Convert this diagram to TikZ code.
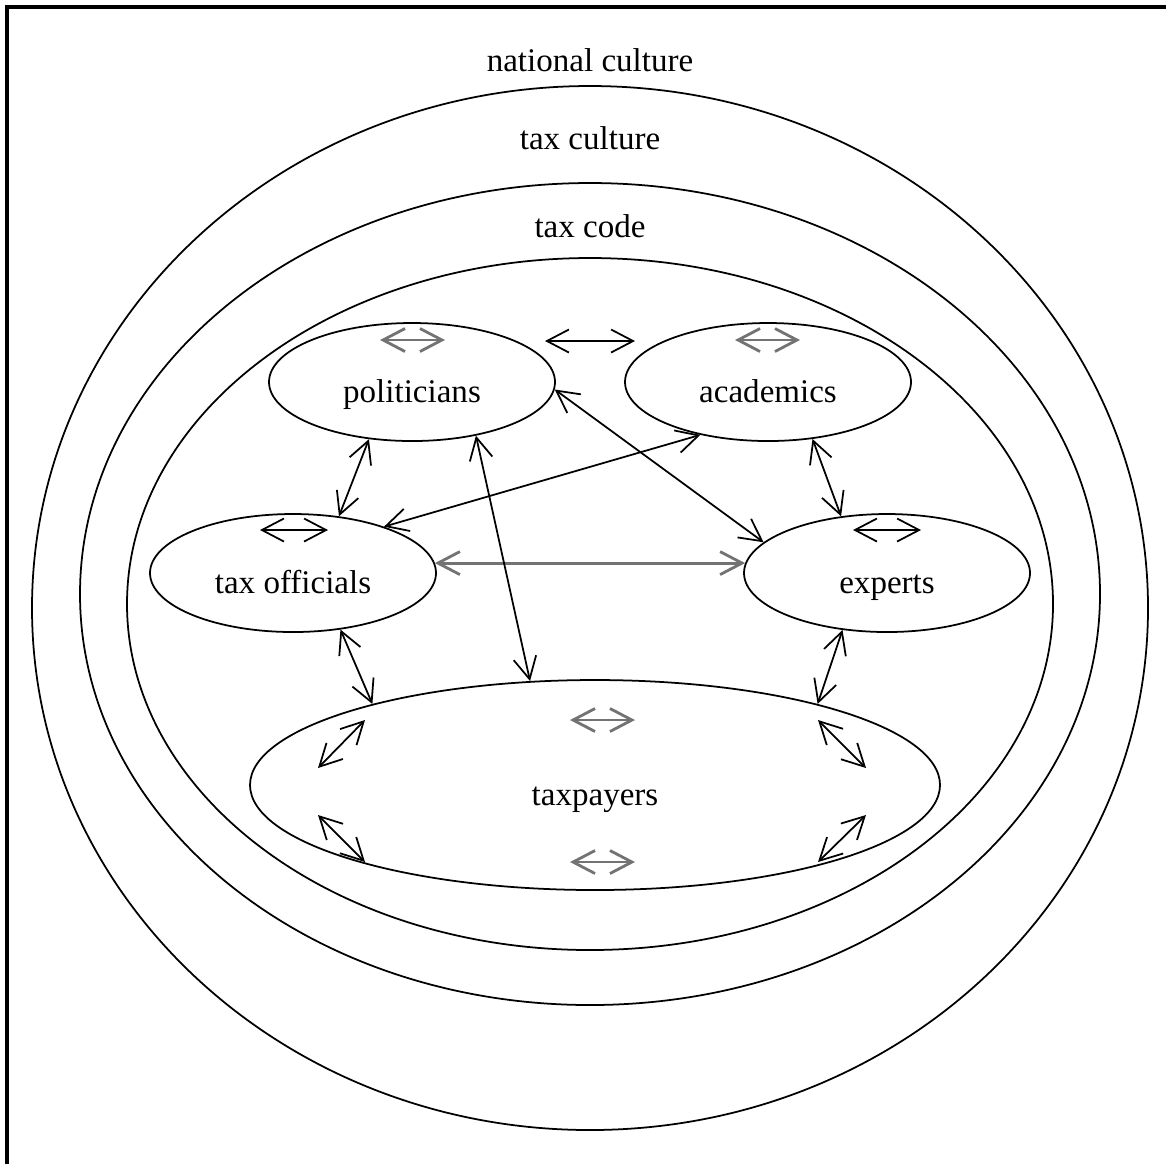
\documentclass[tikz,border=0pt]{standalone}
\usepackage{fontspec}
\setmainfont{Liberation Serif}
\usetikzlibrary{arrows.meta, shapes.geometric, calc}

\begin{document}
\begin{tikzpicture}[x=0.1mm, y=-0.1mm, line width=0.5pt,
    font=\fontsize{9.4}{11}\selectfont,
    >={Straight Barb[length=2.2mm,width=2.3mm]},
    ring/.style={ellipse, draw, inner sep=0pt},
    actor/.style={ellipse, draw, inner sep=0pt, text height=4mm, text depth=0pt,
        minimum width=28.6mm, minimum height=11.8mm},
    link/.style={<->},
    soft/.style={<->, draw=black!55, line width=0.8pt}]
    \useasboundingbox (0,0) rectangle (1166,1164);
    % frame
    \draw[line width=0.9pt] (7,1164) -- (7,7) -- (1166,7);

    % nested contexts
    \node[ring, minimum width=111.6mm, minimum height=104.4mm] (national) at (590,608) {};
    \node[ring, minimum width=102mm, minimum height=82.2mm] (taxcult) at (590,594) {};
    \node[ring, minimum width=92.6mm, minimum height=69.2mm] (taxcode) at (590,604) {};
    \node (lnational) at (590,60) {national culture};
    \node (ltaxcult) at (590,138) {tax culture};
    \node (ltaxcode) at (590,226) {tax code};

    % actors
    \node[actor] (pol) at (412,382) {politicians};
    \node[actor] (aca) at (768,382) {academics};
    \node[actor] (off) at (293,573) {tax officials};
    \node[actor] (exp) at (887,573) {experts};
    \node[actor, minimum width=69mm, minimum height=21mm] (tax) at (595,785) {taxpayers};

    % interactions within groups
    \draw[soft] ($(pol)+(-32,-42)$) -- ($(pol)+(33,-42)$);
    \draw[soft] ($(aca)+(-33,-42)$) -- ($(aca)+(32,-42)$);
    \draw[link] ($(off)+(-33,-43)$) -- ($(off)+(35,-43)$);
    \draw[link] ($(exp)+(-34,-43)$) -- ($(exp)+(34,-43)$);
    \draw[soft] ($(tax)+(-25,-65)$) -- ($(tax)+(40,-65)$);
    \draw[soft] ($(tax)+(-25,77)$) -- ($(tax)+(40,77)$);
    \draw[link] ($(tax)+(-230,-65)$) -- ($(tax)+(-277,-17)$);
    \draw[link] ($(tax)+(-277,30)$) -- ($(tax)+(-230,77)$);
    \draw[link] ($(tax)+(223,-65)$) -- ($(tax)+(271,-17)$);
    \draw[link] ($(tax)+(271,30)$) -- ($(tax)+(223,77)$);

    % interactions between groups
    \draw[link] ($(pol)+(133,-41)$) -- ($(aca)+(-133,-41)$);
    \draw[link] (pol.233) -- (off.51);
    \draw[link] (aca.308) -- (exp.129);
    \draw[link] (pol.-3) -- (exp.166);
    \draw[link] (aca.218) -- (off.27);
    \draw[soft] (off.4) -- (exp.176);
    \draw[link] (pol.320) -- (tax.122);
    \draw[link] (off.-50) -- (tax.160);
    \draw[link] (exp.232) -- (tax.20);
\end{tikzpicture}
\end{document}
